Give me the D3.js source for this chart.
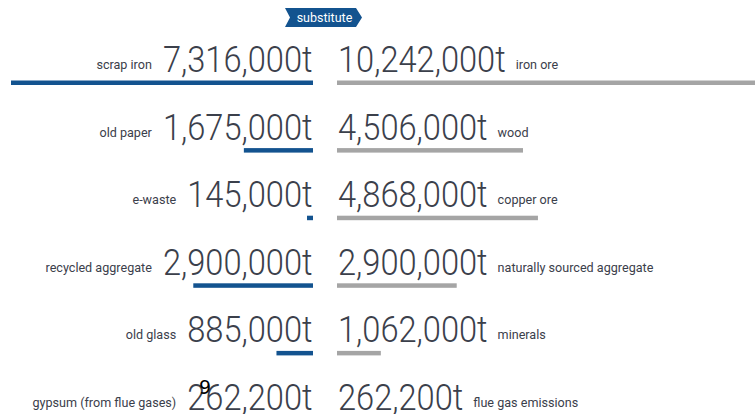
<!DOCTYPE html>
<html><head><meta charset="utf-8">
<script src="https://cdn.jsdelivr.net/npm/d3@7"></script>
<style>
html,body{margin:0;padding:0;background:#fff;}
svg{display:block;}
</style></head>
<body>
<script>
const substituteLabels = ["scrap iron","old paper","e-waste","recycled aggregate","old glass","gypsum (from flue gases)"];
const substituteValues = [7316000,1675000,145000,2900000,885000,262200];
const primaryLabels = ["iron ore","wood","copper ore","naturally sourced aggregate","minerals","flue gas emissions"];
const primaryValues = [10242000,4506000,4868000,2900000,1062000,262200];
const badgeText = "substitute";
const strayText = "9";

const W = 755, H = 414;
const svg = d3.select("body").append("svg").attr("width", W).attr("height", H);

const centre = 325, halfGap = 12;
const blue = "#13538f", gray = "#a5a5a5", textCol = "#3b404b";

const y = d3.scalePoint().domain(d3.range(substituteLabels.length)).range([72, 410]);
const len = d3.scaleLinear().domain([0, 7316000]).range([0, 302]);
const fmt = d3.format(",");

// badge
const bx0 = 285, bx1 = 362, by0 = 8, by1 = 27, bm = (by0+by1)/2;
svg.append("path")
  .attr("d", `M${bx0},${by0} L${bx1-6},${by0} L${bx1},${bm} L${bx1-6},${by1} L${bx0},${by1} L${bx0+5},${bm} Z`)
  .attr("fill", blue);
svg.append("text").attr("x", (bx0+bx1)/2+1).attr("y", 22)
  .attr("text-anchor","middle").attr("fill","#fff")
  .style("font-family","Roboto, sans-serif").style("font-size","12.5px")
  .text(badgeText);

const sx = 0.87, lsx = 1;
const numStyle = s => s.style("font-family","Roboto, sans-serif").style("font-weight","300")
  .style("font-size","37.5px").attr("fill", textCol);
const labStyle = s => s.style("font-family","Roboto, sans-serif").style("font-size","12.6px").attr("fill", textCol);

substituteLabels.forEach((lab, i) => {
  const by = y(i);
  // left number
  const lx = centre - halfGap - 0.5;
  const ln = svg.append("text").attr("transform", `translate(${lx},${by}) scale(${sx},1)`)
    .attr("text-anchor","end").call(numStyle).text(fmt(substituteValues[i]) + "t");
  const lw = ln.node().getComputedTextLength() * sx;
  svg.append("text").attr("transform", `translate(${lx - lw - 11},${by - 3}) scale(${lsx},1)`)
    .attr("text-anchor","end").call(labStyle).text(lab);
  // right number
  const rx = centre + halfGap + 1;
  const rn = svg.append("text").attr("transform", `translate(${rx},${by}) scale(${sx},1)`)
    .call(numStyle).text(fmt(primaryValues[i]) + "t");
  const rw = rn.node().getComputedTextLength() * sx;
  svg.append("text").attr("transform", `translate(${rx + rw + 10},${by - 3}) scale(${lsx},1)`)
    .call(labStyle).text(primaryLabels[i]);
  // bars
  svg.append("rect").attr("x", centre - halfGap - len(substituteValues[i])).attr("y", by + 8.5)
    .attr("width", len(substituteValues[i])).attr("height", 4.5).attr("fill", blue);
  svg.append("rect").attr("x", centre + halfGap).attr("y", by + 8.5)
    .attr("width", len(primaryValues[i])).attr("height", 4.5).attr("fill", gray);
});

svg.append("text").attr("x", 199).attr("y", 394).attr("fill","#000")
  .style("font-family","'DejaVu Sans', sans-serif").style("font-size","19px").text(strayText);
</script>
</body></html>
